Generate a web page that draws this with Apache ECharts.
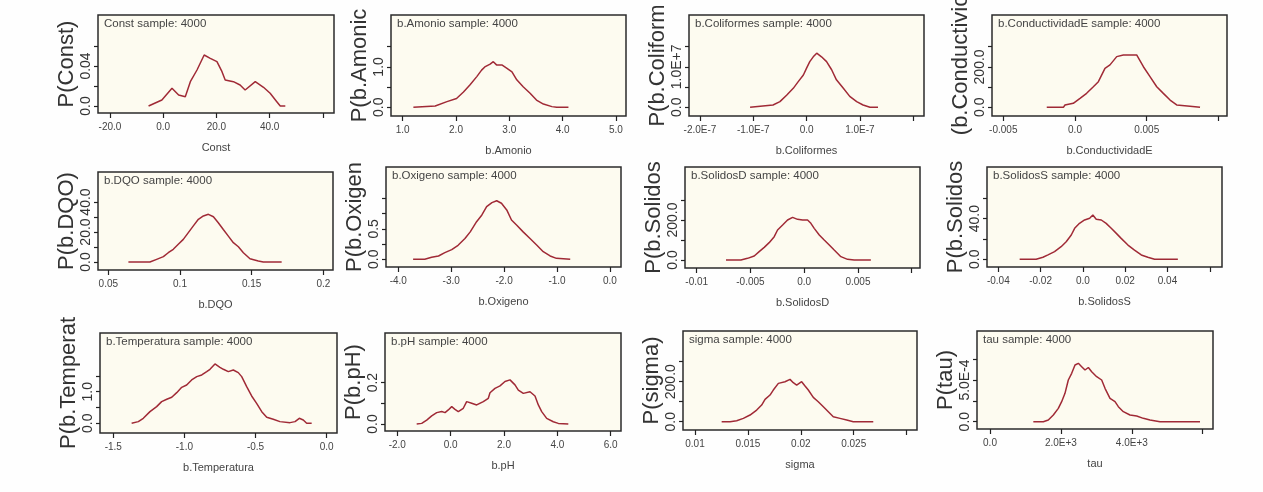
<!DOCTYPE html>
<html>
<head>
<meta charset="utf-8">
<script src="https://cdn.jsdelivr.net/npm/echarts@6/dist/echarts.min.js"></script>
<style>
html,body{margin:0;padding:0;background:#fefefe;}
#c{width:1263px;height:492px;}
</style>
</head>
<body>
<div id="c"></div>
<script>
// ---------- DATA ----------
const constX = [-5.5,-0.5,3.3,5.8,8.3,10.2,12.7,15.4,17.7,20.2,22.1,23.3,26.4,28.9,30.8,34.6,37.7,40.2,42.7,44,45.9];
const constY = [0,0.006,0.0177,0.011,0.0093,0.0243,0.036,0.051,0.0477,0.0443,0.0343,0.026,0.0243,0.021,0.016,0.0243,0.0187,0.0127,0.0043,0,0];

const amonioX = [1.20,1.61,1.83,2.01,2.14,2.26,2.39,2.48,2.54,2.64,2.70,2.76,2.86,2.95,3.05,3.14,3.26,3.39,3.51,3.64,3.80,3.89,4.11];
const amonioY = [0,0.033,0.14,0.22,0.38,0.55,0.76,0.92,1.0,1.07,1.13,1.05,1.05,0.97,0.88,0.68,0.51,0.35,0.18,0.08,0.017,0,0];

const coliX = [-1.06e-7,-0.63e-7,-0.50e-7,-0.375e-7,-0.25e-7,-0.16e-7,-0.06e-7,0,0.06e-7,0.125e-7,0.19e-7,0.28e-7,0.375e-7,0.47e-7,0.56e-7,0.69e-7,0.81e-7,0.94e-7,1.06e-7,1.19e-7,1.34e-7];
const coliY = [0,0.058e7,0.14e7,0.30e7,0.47e7,0.63e7,0.80e7,0.97e7,1.13e7,1.25e7,1.34e7,1.25e7,1.13e7,0.93e7,0.68e7,0.47e7,0.27e7,0.14e7,0.058e7,0,0];

const condX = [-0.00197,-0.00081,-0.0007,-0.00012,0.00035,0.00081,0.00128,0.00163,0.00209,0.00244,0.00291,0.00337,0.0043,0.00442,0.00477,0.00523,0.0057,0.00616,0.00663,0.00709,0.00802,0.00872];
const condY = [0,0,11.6,19.8,44.5,69.3,102,127,193,210,251,259,259,251,201,152,102,69,36,11.6,5,0];

const dqoX = [0.064,0.079,0.0837,0.0884,0.0918,0.0953,0.0988,0.1023,0.1058,0.1093,0.1128,0.1163,0.1198,0.1233,0.1267,0.1302,0.1337,0.1372,0.1407,0.1442,0.1488,0.1546,0.1581,0.1709];
const dqoY = [0,0,1.8,3.6,6.2,8.5,11.8,15.1,19.6,24.1,28.5,30.7,31.8,30.2,26.2,21.7,17.3,12.9,10.2,6.2,2.2,0.7,0,0];

const oxiX = [-3.72,-3.50,-3.37,-3.24,-3.12,-2.99,-2.87,-2.74,-2.64,-2.52,-2.42,-2.33,-2.23,-2.14,-2.05,-1.95,-1.86,-1.76,-1.64,-1.51,-1.38,-1.26,-1.13,-1.01,-0.75];
const oxiY = [0,0,0.033,0.055,0.11,0.16,0.23,0.34,0.45,0.617,0.727,0.864,0.93,0.96,0.92,0.81,0.645,0.56,0.45,0.34,0.23,0.125,0.055,0.016,0];

const solDX = [-0.00728,-0.00589,-0.00527,-0.00465,-0.00419,-0.00372,-0.00326,-0.00279,-0.00248,-0.00201,-0.00155,-0.00108,-0.00062,-0.00015,0.00031,0.00062,0.00093,0.0014,0.00186,0.00233,0.00279,0.00341,0.00403,0.00465,0.0062];
const solDY = [0,0,8.3,20,41.7,63.3,86.7,116.7,150,175,200,213.3,203.3,200,200,183.3,158.3,125,100,75,50,16.7,3.3,0,0];

const solSX = [-0.0299,-0.0221,-0.0189,-0.0165,-0.0134,-0.0103,-0.0079,-0.0055,-0.0039,-0.0016,0.0008,0.0032,0.0047,0.0063,0.0087,0.011,0.0134,0.0158,0.0181,0.0213,0.0244,0.0276,0.0307,0.0339,0.0449];
const solSY = [0,0,2,4.3,7.6,12.4,17.3,23.9,30.5,35.4,38.7,40.4,43.6,39.4,38.7,35.4,30.5,25.5,20.6,14,9.1,4.3,2,0,0];

const tempX = [-1.371,-1.324,-1.289,-1.242,-1.195,-1.160,-1.124,-1.089,-1.054,-1.019,-0.984,-0.949,-0.913,-0.878,-0.843,-0.820,-0.785,-0.750,-0.726,-0.691,-0.656,-0.621,-0.597,-0.562,-0.527,-0.492,-0.456,-0.421,-0.375,-0.328,-0.257,-0.222,-0.192,-0.164,-0.140,-0.105];
const tempY = [0,0.053,0.158,0.369,0.527,0.686,0.76,0.823,0.97,1.139,1.213,1.371,1.477,1.53,1.635,1.709,1.878,1.772,1.709,1.635,1.688,1.604,1.477,1.16,0.865,0.633,0.369,0.19,0.127,0.053,0.021,0.053,0.158,0.106,0,0];

const phX = [-1.273,-1.085,-0.898,-0.71,-0.523,-0.335,-0.211,-0.088,0.04,0.163,0.287,0.474,0.6,0.789,0.976,1.224,1.412,1.475,1.662,1.85,2.037,2.225,2.412,2.537,2.724,2.975,3.162,3.287,3.413,3.6,3.848,4.036,4.411];
const phY = [0,0.003,0.019,0.039,0.055,0.06,0.055,0.068,0.084,0.071,0.06,0.076,0.108,0.1,0.092,0.108,0.124,0.151,0.172,0.184,0.205,0.213,0.189,0.164,0.148,0.156,0.135,0.092,0.06,0.027,0.011,0.003,0];

const sigmaX = [0.01252,0.01331,0.01394,0.01457,0.0152,0.01583,0.0163,0.01662,0.01709,0.0174,0.01788,0.01851,0.01898,0.01929,0.01961,0.02008,0.0204,0.02071,0.02118,0.02165,0.02213,0.0226,0.02307,0.0237,0.02434,0.02496,0.02685];
const sigmaY = [0,0,5,16.7,33.3,58.3,83.3,111.7,133.3,158.3,191.7,200,211.7,195,183.3,200,178.3,158.3,121.7,100,75,50,25,16.7,8.3,0,0];

const tauX = [1222,1504,1645,1786,1927,2021,2115,2209,2304,2398,2492,2586,2680,2774,2868,3009,3150,3244,3385,3526,3620,3761,3949,4137,4325,4513,4795,5924];
const tauY = [0,0,0.2e-4,0.8e-4,1.6e-4,2.4e-4,3.4e-4,5.0e-4,5.8e-4,6.8e-4,7.0e-4,6.6e-4,6.2e-4,6.5e-4,6.0e-4,5.4e-4,5.0e-4,4.0e-4,2.8e-4,2.4e-4,1.8e-4,1.2e-4,0.8e-4,0.68e-4,0.4e-4,0.2e-4,0,0];

// node names, tick values and tick labels
const nodeNames = ['Const','b.Amonio','b.Coliformes','b.ConductividadE','b.DQO','b.Oxigeno','b.SolidosD','b.SolidosS','b.Temperatura','b.pH','sigma','tau'];
const yNames = ['P(Const)','P(b.Amonic','P(b.Coliform','(b.Conductivic','P(b.DQO)','P(b.Oxigen','P(b.Solidos','P(b.Solidos','P(b.Temperat','P(b.pH)','P(sigma)','P(tau)'];
const sampleSize = 4000;
const xTickValues = [
  [-20,0,20,40,60],[1,2,3,4,5],[-2e-7,-1e-7,0,1e-7,2e-7],[-0.005,0,0.005,0.01],
  [0.05,0.1,0.15,0.2],[-4,-3,-2,-1,0],[-0.01,-0.005,0,0.005,0.01],[-0.04,-0.02,0,0.02,0.04,0.06],
  [-1.5,-1,-0.5,0],[-2,0,2,4,6],[0.01,0.015,0.02,0.025,0.03],[0,2000,4000,6000]
];
const xLabelValues = [
  [-20,0,20,40],[1,2,3,4,5],[-2e-7,-1e-7,0,1e-7],[-0.005,0,0.005],
  [0.05,0.1,0.15,0.2],[-4,-3,-2,-1,0],[-0.01,-0.005,0,0.005],[-0.04,-0.02,0,0.02,0.04],
  [-1.5,-1,-0.5,0],[-2,0,2,4,6],[0.01,0.015,0.02,0.025],[0,2000,4000]
];
const yTickValues = [
  [0,0.02,0.04,0.06],[0,0.5,1,1.5],[0,0.5e7,1e7,1.5e7],[0,100,200,300],
  [0,10,20,30,40],[0,0.25,0.5,0.75,1],[0,100,200,300],[0,20,40,60],
  [0,0.5,1,1.5],[0,0.1,0.2],[0,100,200,300],[0,2.5e-4,5e-4,7.5e-4]
];
const yLabelValues = [
  [0,0.04],[0,1],[0,1e7],[0,200],[0,20,40],[0,0.5],[0,200],[0,40],[0,1],[0,0.2],[0,200],[0,5e-4]
];
const seriesX = [constX,amonioX,coliX,condX,dqoX,oxiX,solDX,solSX,tempX,phX,sigmaX,tauX];
const seriesY = [constY,amonioY,coliY,condY,dqoY,oxiY,solDY,solSY,tempY,phY,sigmaY,tauY];

// ---------- LAYOUT (pixel boxes and axis ranges) ----------
const boxes = [
  [98,15,236,98],[391,15,235,101],[689,15,235,101],[992,15,235,101],
  [98,172,235,98],[386,167,235,100],[685,167,235,101],[987,167,235,100],
  [100,333,237,100],[385,333,236,98],[683,331,234,99],[977,331,236,98]
];
const xRanges = [
  [-24.51,64.2],[0.78,5.19],[-2.206e-7,2.203e-7],[-0.005788,0.0106],
  [0.0428,0.2067],[-4.2325,0.21],[-0.01109,0.01077],[-0.04534,0.06577],
  [-1.5935,0.0732],[-2.461,6.386],[0.008866,0.030983],[-366.7,6290]
];
const yRanges = [
  [-0.007,0.091],[-0.215,2.285],[-0.215e7,2.285e7],[-43,457],
  [-5.3,60],[-0.126,1.514],[-40,465],[-7.6,90.9],
  [-0.307,2.858],[-0.0338,0.4395],[-41.5,453.5],[-8.8e-5,1.088e-3]
];
const xFmt = ['f1','f1',['e',-7],'plain','plain','f1','plain','plain','f1','f1','plain',['e',3]];
const yFmt = ['plain','f1',['e',7],'f1','f1','f1','f1','f1','f1','f1','f1',['e',-4]];

function fmt(v, kind){
  if (kind === 'f1') return v.toFixed(1);
  if (kind === 'plain') return v === 0 ? '0.0' : String(v);
  const e = kind[1];
  if (v === 0) return '0.0';
  return (v / Math.pow(10, e)).toFixed(1) + 'E' + (e > 0 ? '+' : '') + e;
}

const FONT = 'Liberation Sans, Arial, sans-serif';
const NARROW = 'Liberation Sans Narrow, Liberation Sans, sans-serif';
const grids = [], xAxes = [], yAxes = [], series = [], titles = [];
for (let i = 0; i < 12; i++) {
  const b = boxes[i];
  grids.push({left:b[0], top:b[1], width:b[2], height:b[3], show:true,
    backgroundColor:'#fdfbf0', borderColor:'#2b2b2b', borderWidth:1.5,
    containLabel:false, outerBoundsMode:'none'});
  const xk = xFmt[i], yk = yFmt[i];
  xAxes.push({type:'value', gridIndex:i, min:xRanges[i][0], max:xRanges[i][1], position:'bottom',
    name:nodeNames[i], nameLocation:'middle', nameGap:29,
    nameTextStyle:{fontSize:11, color:'#444', fontFamily:FONT},
    axisLine:{show:false, onZero:false}, splitLine:{show:false},
    axisTick:{show:true, length:5, customValues:xTickValues[i], lineStyle:{color:'#222', width:1.2}},
    axisLabel:{customValues:xLabelValues[i], margin:9, fontSize:10, color:'#444', fontFamily:FONT,
      formatter:(v)=>fmt(v, xk)}});
  yAxes.push({type:'value', gridIndex:i, min:yRanges[i][0], max:yRanges[i][1], position:'left',
    name:yNames[i], nameLocation:'middle', nameGap:17, nameRotate:90,
    nameTextStyle:{fontSize:22, color:'#333', fontFamily:NARROW},
    axisLine:{show:false, onZero:false}, splitLine:{show:false},
    axisTick:{show:true, length:4, customValues:yTickValues[i], lineStyle:{color:'#222', width:1.2}},
    axisLabel:{customValues:yLabelValues[i], rotate:90, margin:5, fontSize:14, color:'#333',
      fontFamily:NARROW, formatter:(v)=>fmt(v, yk)}});
  const pts = seriesX[i].map((x, j) => [x, seriesY[i][j]]);
  series.push({type:'line', xAxisIndex:i, yAxisIndex:i, data:pts, showSymbol:false,
    lineStyle:{color:'#a02a36', width:1.5}, silent:true, animation:false});
  titles.push({text:nodeNames[i] + ' sample: ' + sampleSize, left:b[0] + 6, top:b[1] + 3, padding:0,
    textStyle:{fontSize:11.5, fontWeight:'normal', color:'#444', fontFamily:FONT}});
}

const chart = echarts.init(document.getElementById('c'), null, {renderer:'canvas'});
chart.setOption({backgroundColor:'#fefefe', animation:false, title:titles, grid:grids,
  xAxis:xAxes, yAxis:yAxes, series:series});
</script>
</body>
</html>
